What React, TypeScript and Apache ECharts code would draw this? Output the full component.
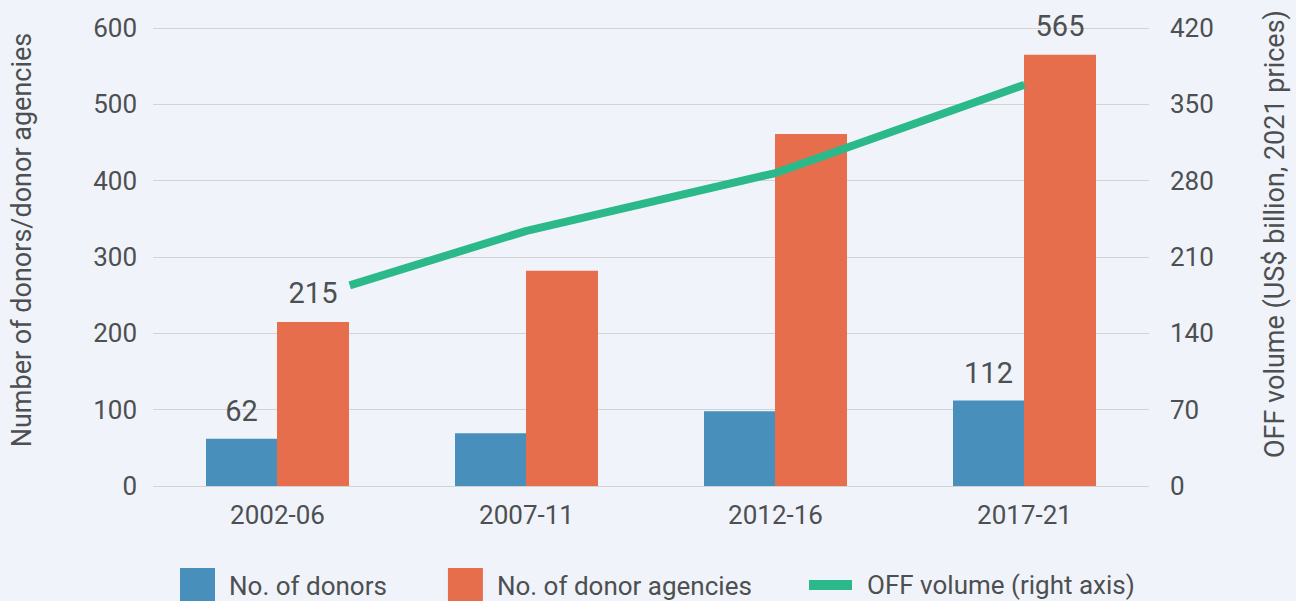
import React, { useEffect, useRef } from "react";
import * as echarts from "echarts";

const categories = ["2002-06", "2007-11", "2012-16", "2017-21"];
const donors = [62, 69, 98, 112];
const agencies = [215, 282, 461, 565];
// OFF volume (right axis), positioned in category units
const offX = [0.29, 1, 2, 3];
const offVolume = [184, 234, 287, 368];
const labelledIndex = [0, 3];

const TEXT = "#4d4f51";
const FONT = "Roboto, 'Noto Sans', sans-serif";

export default function App() {
  const ref = useRef<HTMLDivElement>(null);
  useEffect(() => {
    if (!ref.current) return;
    const chart = echarts.init(ref.current, undefined, { renderer: "svg" });
    const labelFn = (p: any) =>
      labelledIndex.includes(p.dataIndex) ? String(p.value) : "";
    chart.setOption({
      animation: false,
      backgroundColor: "#f0f4fa",
      textStyle: { fontFamily: FONT },
      grid: { left: 153, right: 144, top: 28, bottom: 115 },
      legend: [
        {
          data: ["No. of donors", "No. of donor agencies"],
          left: 180,
          top: 568,
          padding: 0,
          itemWidth: 35,
          itemHeight: 36,
          itemGap: 61,
          icon: "rect",
          textStyle: { fontSize: 26, color: TEXT, fontFamily: FONT, padding: [0, 0, 0, 9] },
        },
        {
          data: ["OFF volume (right axis)"],
          left: 809,
          top: 572,
          padding: 0,
          itemWidth: 43,
          itemHeight: 10,
          icon: "rect",
          textStyle: { fontSize: 26, color: TEXT, fontFamily: FONT, padding: [0, 0, 0, 10] },
        },
      ],
      xAxis: [
        {
          type: "category",
          data: categories,
          axisLine: { show: false },
          axisTick: { show: false },
          axisLabel: { fontSize: 26, color: TEXT, margin: 16, fontFamily: FONT },
        },
        {
          type: "value",
          min: -0.5,
          max: 3.5,
          show: false,
        },
      ],
      yAxis: [
        {
          type: "value",
          min: 0,
          max: 600,
          interval: 100,
          name: "Number of donors/donor agencies",
          nameLocation: "middle",
          nameRotate: 90,
          nameGap: 118,
          nameTextStyle: { fontSize: 27, color: TEXT, fontFamily: FONT, padding: [0, 0, 0, 34] },
          axisLine: { show: false },
          axisTick: { show: false },
          axisLabel: { fontSize: 26, color: TEXT, margin: 16, fontFamily: FONT },
          splitLine: { lineStyle: { color: "#d3d3d3", width: 1 } },
        },
        {
          type: "value",
          min: 0,
          max: 420,
          interval: 70,
          position: "right",
          name: "OFF volume (US$ billion, 2021 prices)",
          nameLocation: "middle",
          nameRotate: 90,
          nameGap: 112,
          nameTextStyle: { fontSize: 27, color: TEXT, fontFamily: FONT, padding: [0, 0, 0, 46] },
          axisLine: { show: false },
          axisTick: { show: false },
          axisLabel: { fontSize: 26, color: TEXT, margin: 21, fontFamily: FONT },
          splitLine: { show: false },
        },
      ],
      series: [
        {
          name: "No. of donors",
          type: "bar",
          data: donors,
          barWidth: 71,
          barGap: "0%",
          itemStyle: { color: "#4890bb" },
          label: {
            show: true,
            position: "top",
            distance: 13,
            formatter: labelFn,
            fontSize: 29,
            color: TEXT,
            fontFamily: FONT,
          },
        },
        {
          name: "No. of donor agencies",
          type: "bar",
          data: agencies,
          barWidth: 72,
          barGap: "0%",
          itemStyle: { color: "#e76e4c" },
          label: {
            show: true,
            position: "top",
            distance: 14,
            formatter: labelFn,
            fontSize: 29,
            color: TEXT,
            fontFamily: FONT,
          },
        },
        {
          name: "OFF volume (right axis)",
          type: "line",
          xAxisIndex: 1,
          yAxisIndex: 1,
          data: offX.map((x, i) => [x, offVolume[i]]),
          symbol: "none",
          lineStyle: { color: "#2bb98a", width: 8 },
          itemStyle: { color: "#2bb98a" },
          z: 5,
        },
      ],
    });
    return () => chart.dispose();
  }, []);
  return (
    <div
      ref={ref}
      style={{ position: "absolute", left: 0, top: 0, width: 1296, height: 601 }}
    />
  );
}
